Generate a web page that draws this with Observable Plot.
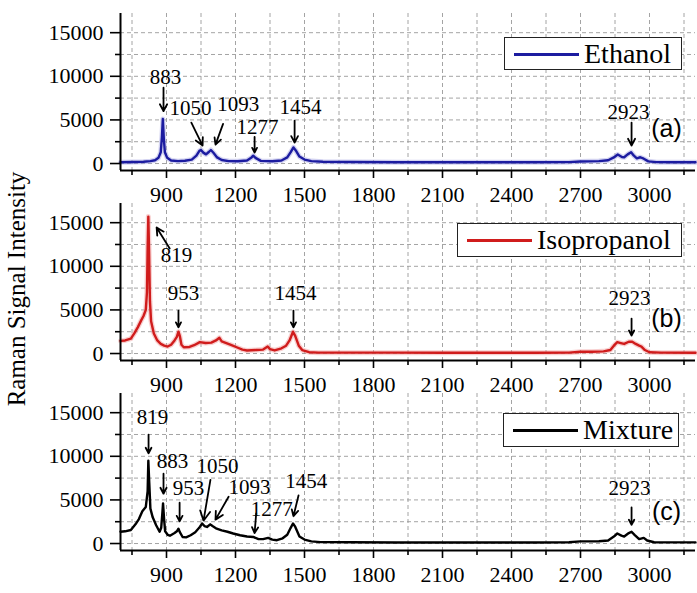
<!DOCTYPE html>
<html>
<head>
<meta charset="utf-8">
<script src="https://cdn.jsdelivr.net/npm/d3@7"></script>
<script src="https://cdn.jsdelivr.net/npm/@observablehq/plot@0.6"></script>
<style>
  body { margin: 0; background: #fff; }
  #wrap { position: relative; width: 697px; height: 593px; overflow: hidden; font-family: "Liberation Serif", "Times New Roman", serif; background: #fff; }
  .panel { position: absolute; left: 0; }
  .panel svg { overflow: visible; background: transparent; display: block; }
  .legend { position: absolute; box-sizing: border-box; border: 1.2px solid #222; background: #fff; font-size: 28px; line-height: 1; }
  .legend .ln { position: absolute; height: 3px; }
  .legend .tx { position: absolute; white-space: nowrap; }
  #ytitle { position: absolute; left: 0; top: 0; }
</style>
</head>
<body>
<div id="wrap"></div>
<script>
// ---------- data ----------
const ethanolX = [700,760,800,830,850,865,875,880,884,888,893,903,920,950,980,1010,1030,1043,1050,1060,1072,1085,1093,1105,1120,1140,1170,1210,1250,1268,1277,1287,1310,1360,1400,1425,1440,1452,1462,1478,1500,1530,1580,1700,1900,2100,2300,2500,2650,2700,2780,2820,2845,2862,2880,2890,2905,2920,2932,2945,2960,2975,2995,3030,3100,3200];
const ethanolY = [150,170,200,270,380,650,1300,3000,5100,3000,1300,650,350,270,320,450,900,1450,1550,1250,1050,1350,1550,1200,700,400,280,260,350,650,900,650,300,260,350,700,1300,1850,1500,800,450,280,200,180,150,150,150,150,160,230,280,380,700,1030,750,720,1050,1300,900,600,720,550,250,160,150,150];

const isoX = [700,720,745,760,775,790,800,810,815,818,821,824,828,833,845,860,875,890,905,920,935,945,952,958,965,975,1000,1020,1045,1070,1095,1115,1130,1140,1160,1180,1205,1230,1250,1290,1320,1340,1350,1370,1400,1420,1435,1450,1460,1475,1490,1520,1560,1700,1900,2100,2300,2500,2650,2700,2750,2800,2830,2845,2860,2875,2890,2910,2925,2940,2955,2965,2980,3000,3050,3200];
const isoY = [1450,1500,1700,2300,3000,3800,4300,5000,7000,12000,15700,12000,6000,3700,2300,1500,1100,900,800,1000,1500,1900,2500,2000,1000,720,750,950,1300,1200,1250,1500,1800,1400,1200,1000,720,450,350,400,450,800,500,350,600,900,1500,2500,2000,900,400,150,100,100,100,80,80,80,100,200,200,250,400,900,1300,1200,1100,1350,1350,1100,900,800,400,150,100,80];

const mixX = [700,720,745,765,780,795,810,818,821,825,830,840,855,870,877,882,885,889,894,905,915,935,945,952,958,970,985,1005,1025,1042,1055,1065,1076,1090,1100,1118,1140,1165,1190,1220,1250,1277,1300,1320,1342,1360,1380,1405,1425,1440,1450,1460,1478,1500,1530,1570,1700,1900,2100,2300,2500,2650,2700,2780,2820,2845,2860,2878,2890,2910,2922,2935,2955,2975,2990,3020,3100,3200];
const mixY = [1350,1400,1550,2200,2800,3700,4200,6000,9500,7000,4000,3000,2100,1350,1800,3500,4600,3000,1400,1000,900,1200,1400,1700,1300,750,700,950,1300,1800,2300,2000,1900,2200,2000,1700,1500,1350,1150,950,800,750,500,500,650,450,380,600,1000,1800,2300,1900,800,450,250,160,150,120,120,120,120,150,250,260,350,800,1150,900,800,1200,1350,1000,500,650,350,150,130,130];

// axis ticks
const xMajorTicks = [900,1200,1500,1800,2100,2400,2700,3000];
const xMinorTicks = [750,1050,1350,1650,1950,2250,2550,2850,3150];
const yMajorTicks = [0,5000,10000,15000];
const yMinorTicks = [2500,7500,12500];

// peak annotations: label, text position, arrow start -> arrow tip (data units)
const annA = [
  {label:"883",  tx:896,  ty:9840, x1:887,  y1:8700, x2:887,  y2:6000},
  {label:"1050", tx:1004, ty:6290, x1:1008, y1:4690, x2:1057, y2:2060},
  {label:"1093", tx:1212, ty:6750, x1:1146, y1:4540, x2:1113, y2:2170},
  {label:"1277", tx:1296, ty:4150, x1:1283, y1:3050, x2:1283, y2:1260},
  {label:"1454", tx:1483, ty:6410, x1:1457, y1:4920, x2:1457, y2:2400},
  {label:"2923", tx:2909, ty:5830, x1:2922, y1:4690, x2:2922, y2:2060}
];
const annB = [
  {label:"819",  tx:943,  ty:11220, x1:914,  y1:12050, x2:857,  y2:14450},
  {label:"953",  tx:974,  ty:6870,  x1:952,  y1:4920,  x2:952,  y2:3010},
  {label:"1454", tx:1461, ty:6870,  x1:1452, y1:4920,  x2:1452, y2:3010},
  {label:"2923", tx:2913, ty:6300,  x1:2922, y1:4010,  x2:2922, y2:2060}
];
const annC = [
  {label:"819",  tx:839,  ty:14440, x1:822,  y1:12490, x2:822,  y2:10350},
  {label:"883",  tx:926,  ty:9480,  x1:887,  y1:8010,  x2:887,  y2:5710},
  {label:"953",  tx:996,  ty:6310,  x1:957,  y1:4680,  x2:957,  y2:2540},
  {label:"1050", tx:1122, ty:8890,  x1:1091, y1:7300,  x2:1061, y2:2620},
  {label:"1093", tx:1261, ty:6420,  x1:1170, y1:5360,  x2:1113, y2:2740},
  {label:"1277", tx:1358, ty:3900,  x1:1290, y1:3450,  x2:1283, y2:1190},
  {label:"1454", tx:1508, ty:7100,  x1:1474, y1:5510,  x2:1452, y2:3130},
  {label:"2923", tx:2913, ty:6310,  x1:2922, y1:4130,  x2:2922, y2:2140}
];
const panelTags = [
  {tag:"(a)", x:3074, y:4000},
  {tag:"(b)", x:3074, y:4010},
  {tag:"(c)", x:3074, y:3570}
];
const seriesNames = ["Ethanol", "Isopropanol", "Mixture"];
const seriesColors = ["#1c1ca0", "#d01c1c", "#000000"];
const haloColors = ["#a8a8e4", "#f2a0a0", null];

// ---------- drawing ----------
const wrap = document.getElementById("wrap");
const serif = "'Liberation Serif', 'Times New Roman', serif";

function panel(xs, ys, idx, ann) {
  const data = xs.map((x, i) => ({x, y: ys[i]}));
  const marks = [
    Plot.ruleX(xMajorTicks.concat(xMinorTicks), {stroke: "#9a9a9a", strokeWidth: 0.9, strokeDasharray: "4,3"}),
    Plot.ruleY(yMajorTicks.concat(yMinorTicks), {stroke: "#9a9a9a", strokeWidth: 0.9, strokeDasharray: "4,3"}),
  ];
  if (haloColors[idx]) marks.push(Plot.line(data, {x: "x", y: "y", stroke: haloColors[idx], strokeWidth: 5, strokeOpacity: 0.5}));
  marks.push(
    Plot.line(data, {x: "x", y: "y", stroke: seriesColors[idx], strokeWidth: 2.4}),
    Plot.axisX({ticks: xMajorTicks, tickSize: 8, tickPadding: 8, tickFormat: d => String(d), strokeWidth: 1.6, fontSize: 22, label: null}),
    Plot.axisX({ticks: xMinorTicks, tickSize: 5, tickFormat: () => "", strokeWidth: 1.6, label: null}),
    Plot.axisY({ticks: yMajorTicks, tickSize: 10, tickPadding: 7, tickFormat: d => String(d), strokeWidth: 1.6, fontSize: 22, label: null}),
    Plot.axisY({ticks: yMinorTicks, tickSize: 5, tickFormat: () => "", strokeWidth: 1.6, label: null}),
    Plot.ruleX([700], {stroke: "#000", strokeWidth: 2}),
    Plot.ruleY([-800], {stroke: "#000", strokeWidth: 2}),
    Plot.arrow(ann, {x1: "x1", y1: "y1", x2: "x2", y2: "y2", stroke: "#000", strokeWidth: 1.8, headLength: 9, headAngle: 55}),
    Plot.text(ann, {x: "tx", y: "ty", text: "label", fontSize: 21, fontFamily: serif, fill: "#000"}),
    Plot.text([panelTags[idx]], {x: "x", y: "y", text: "tag", fontSize: 25, fontFamily: "'Liberation Sans', Arial, sans-serif", fill: "#000"})
  );
  const svg = Plot.plot({
    width: 697, height: 190,
    marginLeft: 120, marginRight: 2, marginTop: 13, marginBottom: 20,
    style: {fontFamily: serif, fontSize: "22px", background: "transparent", overflow: "visible", color: "#000"},
    x: {domain: [700, 3200]},
    y: {domain: [-800, 17200]},
    marks
  });
  const div = document.createElement("div");
  div.className = "panel";
  div.style.top = (idx * 190) + "px";
  div.appendChild(svg);
  wrap.appendChild(div);
}

// y title
const ns = "http://www.w3.org/2000/svg";
const tsvg = document.createElementNS(ns, "svg");
tsvg.setAttribute("id", "ytitle");
tsvg.setAttribute("width", 60);
tsvg.setAttribute("height", 593);
const tt = document.createElementNS(ns, "text");
tt.setAttribute("transform", "translate(25,289) rotate(-90)");
tt.setAttribute("text-anchor", "middle");
tt.setAttribute("font-family", serif);
tt.setAttribute("font-size", "25");
tt.textContent = "Raman Signal Intensity";
tsvg.appendChild(tt);
wrap.appendChild(tsvg);

panel(ethanolX, ethanolY, 0, annA);
panel(isoX, isoY, 1, annB);
panel(mixX, mixY, 2, annC);

// legends (HTML, positioned like the reference boxes)
const legendBoxes = [
  {left: 504, top: 37, w: 178, h: 33},
  {left: 457, top: 223, w: 225, h: 34},
  {left: 503, top: 413, w: 176, h: 34}
];
legendBoxes.forEach((b, i) => {
  const d = document.createElement("div");
  d.className = "legend";
  Object.assign(d.style, {left: b.left + "px", top: b.top + "px", width: b.w + "px", height: b.h + "px"});
  const ln = document.createElement("div");
  ln.className = "ln";
  Object.assign(ln.style, {left: "9px", width: "65px", top: (b.h / 2 - 2) + "px", background: seriesColors[i]});
  const tx = document.createElement("div");
  tx.className = "tx";
  Object.assign(tx.style, {left: "79px", top: (b.h / 2 - 15) + "px"});
  tx.textContent = seriesNames[i];
  d.appendChild(ln); d.appendChild(tx);
  wrap.appendChild(d);
});
</script>
</body>
</html>
